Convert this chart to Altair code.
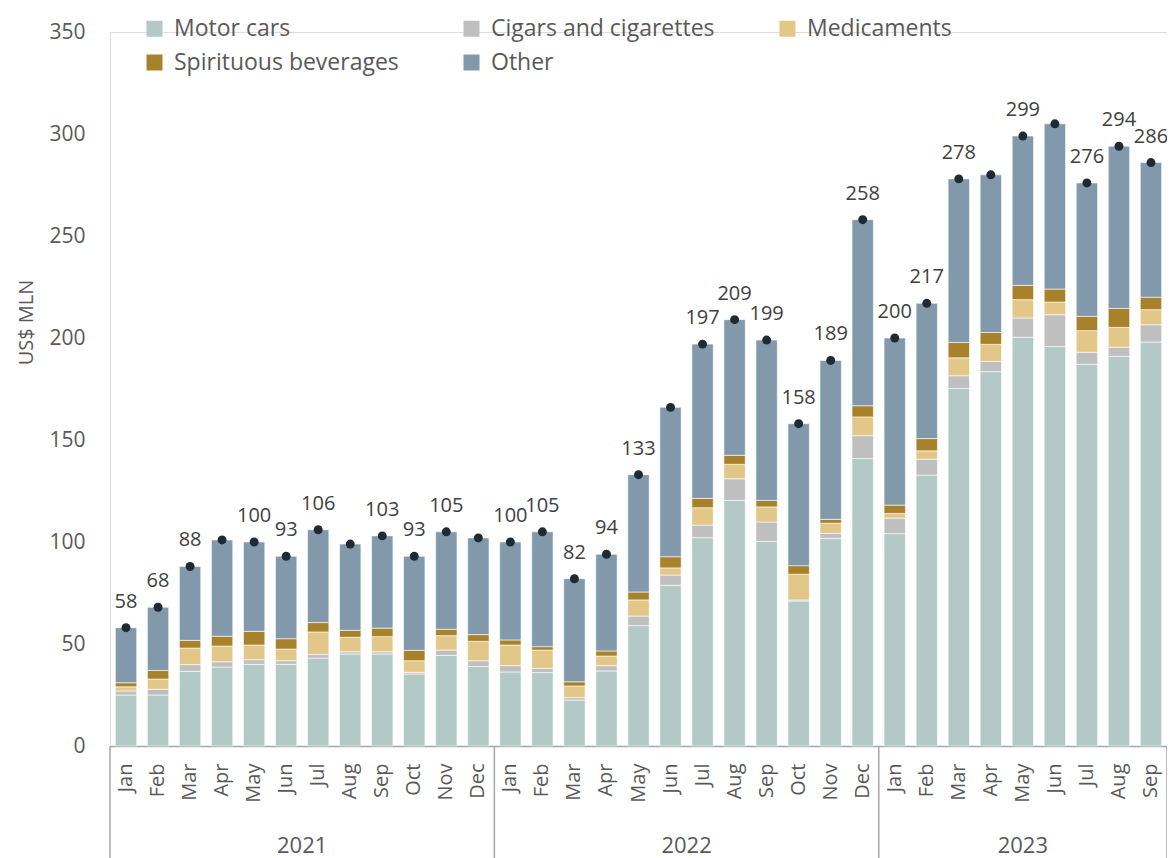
import altair as alt
import pandas as pd

# ---------------- data ----------------
years = ["2021"] * 12 + ["2022"] * 12 + ["2023"] * 9
months = (["Jan", "Feb", "Mar", "Apr", "May", "Jun", "Jul", "Aug", "Sep", "Oct", "Nov", "Dec"] * 2
          + ["Jan", "Feb", "Mar", "Apr", "May", "Jun", "Jul", "Aug", "Sep"])

motor_cars = [25, 25, 36.6, 38.7, 40, 40, 43.1, 45.1, 45.1, 35.3, 44.4, 39,
              36.3, 36, 22.5, 36.8, 59, 78.8, 102.1, 120.4, 100.3, 71.1, 101.8, 141,
              104.1, 132.8, 175.3, 183.5, 200.4, 195.9, 187.1, 191, 198]
cigars = [2, 2.8, 3.3, 2.6, 2.3, 1.8, 1.8, 1.1, 1.1, 0.8, 2.6, 2.8,
          3.1, 2.1, 1.2, 2.6, 4.7, 5, 6.2, 10.6, 9.5, 0.5, 2.4, 11.1,
          7.6, 7.8, 6.2, 5, 9.4, 15.5, 5.9, 4.5, 8.5]
medicaments = [2, 5, 8.1, 7.7, 7.2, 5.7, 11, 7.1, 7.4, 5.7, 7.1, 9.5,
               10.1, 8.9, 5.7, 4.7, 7.9, 3.5, 8.5, 7.1, 7.4, 12.6, 5, 9.2,
               2.3, 4.1, 8.8, 8.4, 9, 6.2, 10.6, 9.7, 7.4]
spirituous = [2, 4.2, 3.8, 4.8, 6.7, 5.1, 4.6, 3.4, 4.2, 5.1, 3.1, 3.3,
              2.5, 1.7, 2.1, 2.5, 3.9, 5.5, 4.6, 4.4, 3.2, 4.2, 1.9, 5.5,
              4.1, 6, 7.5, 5.8, 7, 6.4, 7, 9.3, 6.1]
other = [27, 31, 36.2, 47.2, 43.8, 40.4, 45.5, 42.3, 45.2, 46.1, 47.8, 47.4,
         48, 56.3, 50.5, 47.4, 57.5, 73.2, 75.6, 66.5, 78.6, 69.6, 77.9, 91.2,
         81.9, 66.3, 80.2, 77.3, 73.2, 81, 65.4, 79.5, 66]
totals = [58, 68, 88, 101, 100, 93, 106, 99, 103, 93, 105, 102,
          100, 105, 82, 94, 133, 166, 197, 209, 199, 158, 189, 258,
          200, 217, 278, 280, 299, 305, 276, 294, 286]
total_labels = ["58", "68", "88", "", "100", "93", "106", "", "103", "93", "105", "",
                "100", "105", "82", "94", "133", "", "197", "209", "199", "158", "189", "258",
                "200", "217", "278", "", "299", "", "276", "294", "286"]

series_names = ["Motor cars", "Cigars and cigarettes", "Medicaments", "Spirituous beverages", "Other"]
series_values = [motor_cars, cigars, medicaments, spirituous, other]
series_colors = ["#b2c9c6", "#bfbfbf", "#e3c788", "#a8822a", "#8199ab"]

year_names = ["2021", "2022", "2023"]
year_anchor_month = ["Jul", "Jul", "May"]

# ---------------- tables ----------------
keys = [f"{y}-{m}" for y, m in zip(years, months)]

rows = []
for si, (name, vals) in enumerate(zip(series_names, series_values)):
    for k, v in zip(keys, vals):
        rows.append({"key": k, "series": name, "value": v, "order": si})
long_df = pd.DataFrame(rows)

tot_df = pd.DataFrame({"key": keys, "total": totals, "label": total_labels})

# ---------------- layout ----------------
W, H = 1057, 714
P_IN, P_OUT = 1 / 3, 1 / 6
step = W / (len(keys) - P_IN + 2 * P_OUT)
half_gap = step * P_IN / 2
AXIS_DEPTH = 112
FONT = "Open Sans"
TXT = "#595959"
LINE = "#a6a6a6"

x_scale = alt.Scale(domain=keys, paddingInner=P_IN, paddingOuter=P_OUT)
x_axis = alt.Axis(title=None, labelExpr="split(datum.value, '-')[1]", labelAngle=270,
                  labelFontSize=20, labelColor=TXT, labelPadding=17, ticks=False,
                  domain=True, domainColor=LINE, domainWidth=1.5, grid=False, labelFont=FONT)
y_scale = alt.Scale(domain=[0, 350], nice=False)

def X(**kw):
    return alt.X("key:O", scale=x_scale, axis=x_axis, sort=None, **kw)

bars = alt.Chart(long_df).mark_bar(stroke="white", strokeWidth=0.6).encode(
    x=X(),
    y=alt.Y("value:Q", stack="zero", scale=y_scale,
            axis=alt.Axis(title="US$ MLN", values=list(range(0, 351, 50)), grid=False, ticks=False,
                          domain=False, labelFontSize=21, labelColor=TXT, labelPadding=25,
                          titleFontSize=20, titleColor=TXT, titleFontWeight="normal",
                          titleAngle=270, titleX=-74, titleY=290, titleFont=FONT, labelFont=FONT)),
    color=alt.Color("series:N", scale=alt.Scale(domain=series_names, range=series_colors),
                    legend=alt.Legend(title=None, orient="none", legendX=33, legendY=-15, columns=3,
                                      direction="horizontal",
                                      symbolType="square", symbolSize=256, symbolStrokeWidth=0,
                                      labelFontSize=23, labelColor=TXT, labelFont=FONT, labelLimit=500,
                                      columnPadding=61, rowPadding=10, labelOffset=8)),
    order=alt.Order("order:Q"),
)

dots = alt.Chart(tot_df).mark_circle(size=80, color="#1f2a33", opacity=1).encode(
    x=X(), y=alt.Y("total:Q", scale=y_scale),
)

labels = alt.Chart(tot_df).mark_text(fontSize=20, color="#404040", baseline="alphabetic", dy=-20,
                                     font=FONT).encode(
    x=X(), y=alt.Y("total:Q", scale=y_scale), text="label:N",
)

year_start_keys = [f"{y}-Jan" for y in year_names]
sep_left = alt.Chart(pd.DataFrame({"key": year_start_keys})).mark_rule(
    color=LINE, strokeWidth=1.5, xOffset=-half_gap).encode(
    x=X(bandPosition=0), y=alt.value(H), y2=alt.value(H + AXIS_DEPTH),
)
sep_right = alt.Chart(pd.DataFrame({"key": [keys[-1]]})).mark_rule(
    color=LINE, strokeWidth=1.5, xOffset=half_gap).encode(
    x=X(bandPosition=1), y=alt.value(H), y2=alt.value(H + AXIS_DEPTH),
)

year_df = pd.DataFrame({"key": [f"{y}-{m}" for y, m in zip(year_names, year_anchor_month)],
                        "year": year_names})
year_full = alt.Chart(year_df.iloc[:2]).mark_text(fontSize=22, color=TXT, font=FONT,
                                                  baseline="middle", xOffset=-half_gap).encode(
    x=X(bandPosition=0), y=alt.value(H + 100), text="year:N",
)
year_part = alt.Chart(year_df.iloc[2:]).mark_text(fontSize=22, color=TXT, font=FONT,
                                                  baseline="middle").encode(
    x=X(bandPosition=0.5), y=alt.value(H + 100), text="year:N",
)

chart = alt.layer(bars, dots, labels, sep_left, sep_right, year_full, year_part).properties(
    width=W, height=H,
    autosize=alt.AutoSizeParams(type="none"),
    padding={"left": 102, "top": 24, "right": 0, "bottom": AXIS_DEPTH},
).configure_view(stroke=None).configure(font=FONT)

chart.save("out.html", embed_options={"renderer": "svg", "actions": False})
